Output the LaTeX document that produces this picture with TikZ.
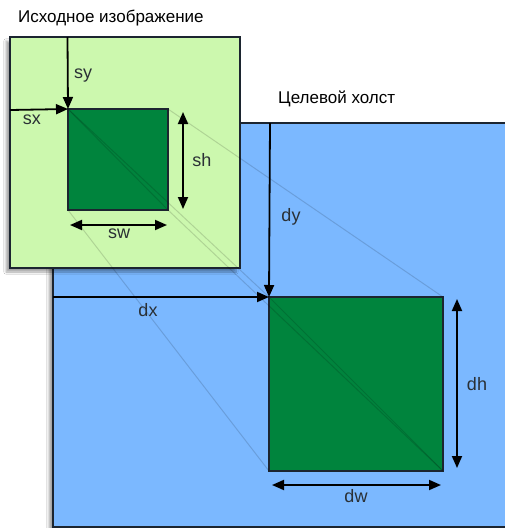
\documentclass[tikz,border=0pt]{standalone}
\usepackage{fontspec}
\setmainfont{Liberation Sans}
\usetikzlibrary{arrows.meta,shadows.blur}
\definecolor{srcbg}{HTML}{CCF8AE}
\definecolor{dstbg}{HTML}{7BB8FF}
\definecolor{imgfill}{HTML}{00843D}
\definecolor{edge}{HTML}{1C2530}
\definecolor{txt}{HTML}{2A3035}
\tikzset{
  panel/.style={draw=edge, line width=1.5pt, inner sep=0pt, outer sep=0pt, anchor=north west,
    blur shadow={shadow xshift=-4pt, shadow yshift=-4pt, shadow blur steps=8, shadow opacity=35}},
  pic/.style={draw=edge, line width=1.2pt, fill=imgfill, inner sep=0pt, outer sep=0pt, anchor=north west},
  dim/.style={draw=black, line width=1.8pt, -{Triangle[length=12pt,width=10pt]}},
  dimboth/.style={draw=black, line width=1.8pt, {Triangle[length=12pt,width=10pt]}-{Triangle[length=12pt,width=10pt]}},
  proj/.style={draw=black, opacity=0.14, line width=1pt},
  lab/.style={text=txt, font=\fontsize{18}{20}\selectfont, inner sep=0pt},
  title/.style={text=black, font=\fontsize{17}{19}\selectfont, inner sep=0pt, anchor=west}
}
\begin{document}
\begin{tikzpicture}[x=1pt,y=-1pt]
\useasboundingbox (0,0) rectangle (505,528);
\fill[white] (0,0) rectangle (505,528);
\begin{scope}
\clip (0,0) rectangle (505,528);
% target canvas
\node[panel, fill=dstbg, minimum width=470pt, minimum height=404pt] (canvas) at (53,123) {};
% source image
\node[panel, fill=srcbg, minimum width=230pt, minimum height=231pt] (source) at (10,37) {};
% image pieces
\node[pic, minimum width=100pt, minimum height=101pt] (src) at (68,109) {};
\node[pic, minimum width=174pt, minimum height=174pt] (dst) at (269,297) {};
% projection lines
\draw[proj] (src.north west) -- (dst.north west);
\draw[proj] (src.north east) -- (dst.north east);
\draw[proj] (src.south west) -- (dst.south west);
\draw[proj] (src.south east) -- (dst.south east);
\draw[proj] (src.north west) -- (src.south east);
\draw[proj] (dst.north west) -- (dst.south east);
% dimension arrows (source)
\coordinate (syA) at (67.5,37);
\coordinate (sxA) at (10,110);
\draw[dim] (syA) -- (src.north west);
\draw[dim] (sxA) -- (src.north west);
\coordinate (shA) at (183,112);
\coordinate (shB) at (183,209);
\draw[dimboth] (shA) -- (shB);
\coordinate (swA) at (70,225);
\coordinate (swB) at (167,225);
\draw[dimboth] (swA) -- (swB);
% dimension arrows (target)
\coordinate (dyA) at (270,123);
\coordinate (dxA) at (53,297);
\draw[dim] (dyA) -- (dst.north west);
\draw[dim] (dxA) -- (dst.north west);
\coordinate (dhA) at (457,299);
\coordinate (dhB) at (457,468);
\draw[dimboth] (dhA) -- (dhB);
\coordinate (dwA) at (272,485);
\coordinate (dwB) at (441,485);
\draw[dimboth] (dwA) -- (dwB);
% labels
\node[lab] (sy) at (83,76) {sy};
\node[lab] (sx) at (32,120) {sx};
\node[lab] (sh) at (202,160) {sh};
\node[lab] (sw) at (119,234) {sw};
\node[lab] (dy) at (291,217) {dy};
\node[lab] (dx) at (148,310) {dx};
\node[lab] (dh) at (477,384) {dh};
\node[lab] (dw) at (356,496) {dw};
\end{scope}
\node[title] (t1) at (18,18) {Исходное изображение};
\node[title] (t2) at (278,99) {Целевой холст};
\end{tikzpicture}
\end{document}
